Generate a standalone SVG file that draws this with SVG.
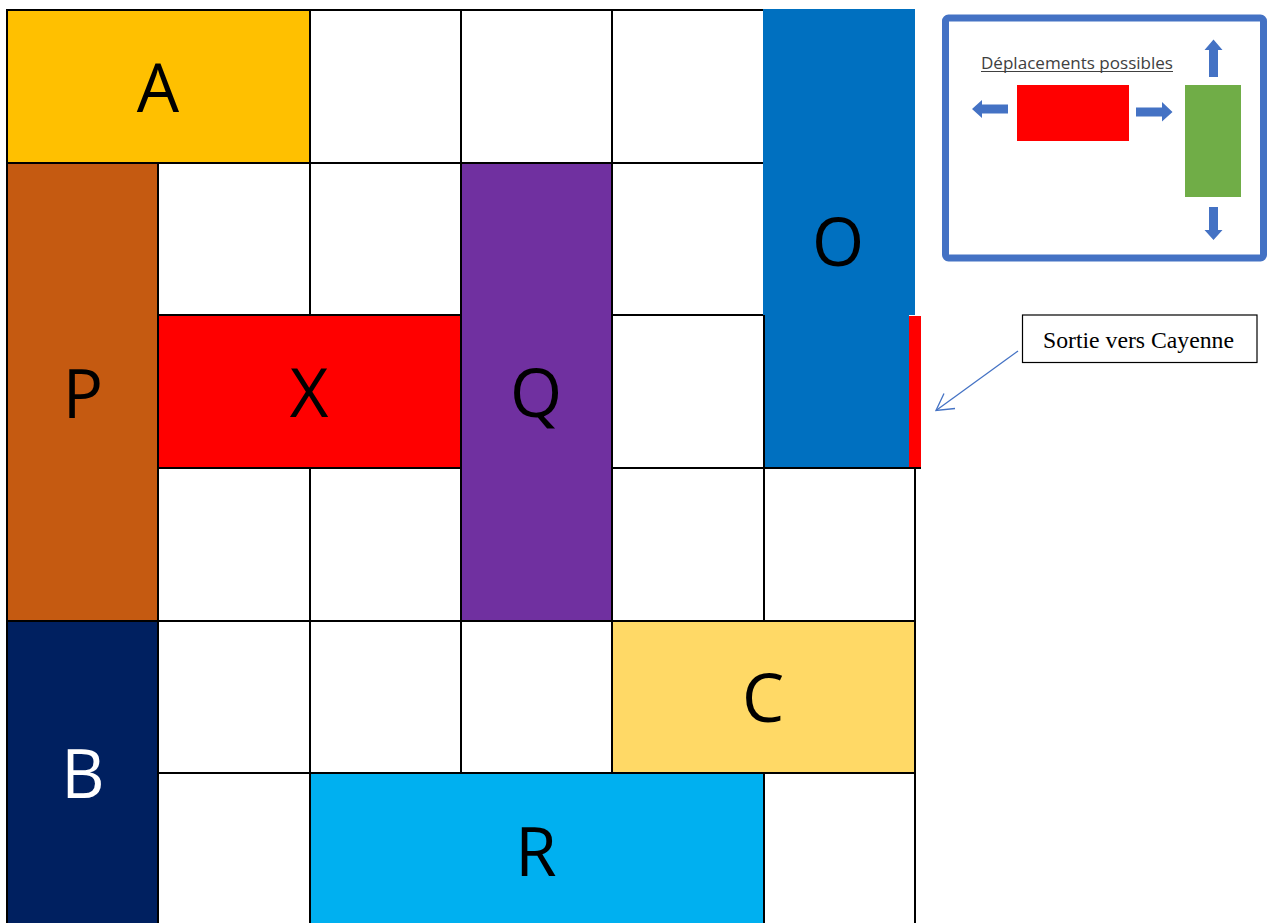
<svg xmlns="http://www.w3.org/2000/svg" width="1275" height="923" viewBox="0 0 1275 923">
<style>
.cell{fill:#FFFFFF;stroke:#000;stroke-width:2}
.blk{stroke:#000;stroke-width:2}
.lbl{font-family:"Open Sans","Liberation Sans",sans-serif;font-size:67px;text-anchor:middle;fill:#000}
.arr{fill:#4472C4}
</style>
<defs>
<marker id="open" viewBox="0 0 20 20" refX="18" refY="10" markerWidth="20" markerHeight="20" markerUnits="userSpaceOnUse" orient="auto">
<path d="M2,2 L18,10 L2,18" fill="none" stroke="#4472C4" stroke-width="1.3"/>
</marker>
</defs>
<rect width="1275" height="923" fill="#FFFFFF"/>
<g id="grid">
<rect class="cell" x="310" y="10" width="151" height="153"/>
<rect class="cell" x="461" y="10" width="151" height="153"/>
<rect class="cell" x="612" y="10" width="152" height="153"/>
<rect class="cell" x="158" y="163" width="152" height="152"/>
<rect class="cell" x="310" y="163" width="151" height="152"/>
<rect class="cell" x="612" y="163" width="152" height="152"/>
<rect class="cell" x="612" y="315" width="152" height="153"/>
<rect class="cell" x="158" y="468" width="152" height="153"/>
<rect class="cell" x="310" y="468" width="151" height="153"/>
<rect class="cell" x="612" y="468" width="152" height="153"/>
<rect class="cell" x="764" y="468" width="151" height="153"/>
<rect class="cell" x="158" y="621" width="152" height="152"/>
<rect class="cell" x="310" y="621" width="151" height="152"/>
<rect class="cell" x="461" y="621" width="151" height="152"/>
<rect class="cell" x="158" y="773" width="152" height="155"/>
<rect class="cell" x="764" y="773" width="151" height="155"/>
</g>
<g id="node-A"><rect class="blk" x="7" y="10" width="303" height="153" fill="#FFC000"/><text class="lbl" x="158" y="112">A</text></g>
<g id="node-P"><rect class="blk" x="7" y="163" width="151" height="458" fill="#C55A11"/><text class="lbl" x="83" y="418">P</text></g>
<g id="node-X"><rect class="blk" x="158" y="315" width="303" height="153" fill="#FF0000"/><text class="lbl" x="309" y="417">X</text></g>
<g id="node-Q"><rect class="blk" x="461" y="163" width="151" height="458" fill="#7030A0"/><text class="lbl" x="536" y="417">Q</text></g>
<g id="node-O">
<rect x="763" y="9" width="152" height="306" fill="#0070C0"/>
<rect x="764" y="315" width="145" height="153" fill="#0070C0"/>
<line x1="764" y1="315" x2="764" y2="468" stroke="#000" stroke-width="2"/>
<rect x="909" y="316" width="12" height="151" fill="#FF0000"/>
<line x1="763" y1="468" x2="921" y2="468" stroke="#000" stroke-width="2"/>
<text class="lbl" x="838" y="266">O</text>
</g>
<g id="node-B"><rect class="blk" x="7" y="621" width="151" height="307" fill="#002060"/><text class="lbl" x="83" y="798" fill="#FFFFFF" style="fill:#FFFFFF">B</text></g>
<g id="node-C"><rect class="blk" x="612" y="621" width="303" height="152" fill="#FFD966"/><text class="lbl" x="763" y="722">C</text></g>
<g id="node-R"><rect class="blk" x="310" y="773" width="454" height="155" fill="#00B0F0"/><text class="lbl" x="536" y="876">R</text></g>
<g id="legend">
<rect x="945.5" y="18" width="318" height="240" rx="3" fill="#FFFFFF" stroke="#4472C4" stroke-width="7"/>
<text x="981" y="69" font-family="'Open Sans','Liberation Sans',sans-serif" font-size="17" fill="#404040" textLength="192" lengthAdjust="spacingAndGlyphs">Déplacements possibles</text>
<line x1="981" y1="71.5" x2="1173" y2="71.5" stroke="#404040" stroke-width="1.2"/>
<rect x="1017" y="85" width="112" height="56" fill="#FF0000"/>
<rect x="1185" y="85" width="56" height="112" fill="#70AD47"/>
<polygon class="arr" points="972,109 982,100 982,104.5 1008,104.5 1008,113.5 982,113.5 982,118"/>
<polygon class="arr" points="1172.5,112 1162,102 1162,107.5 1136,107.5 1136,116.5 1162,116.5 1162,121.5"/>
<polygon class="arr" points="1213.5,39.5 1222.5,50 1218,50 1218,77 1209,77 1209,50 1204.5,50"/>
<polygon class="arr" points="1213.5,240 1222.5,230 1218,230 1218,207 1209,207 1209,230 1204.5,230"/>
</g>
<g id="node-exit">
<rect x="1022.5" y="315" width="234.5" height="47.5" fill="#FFFFFF" stroke="#000" stroke-width="1.2"/>
<text x="1043" y="348" font-family="'Liberation Serif','Times New Roman',serif" font-size="24" fill="#000" textLength="191" lengthAdjust="spacingAndGlyphs">Sortie vers Cayenne</text>
</g>
<g id="connectors">
<path d="M1018,351 L936,410.5" fill="none" stroke="#4472C4" stroke-width="1.3"/>
<path d="M944,393.5 L936,410.5 L955,408.5" fill="none" stroke="#4472C4" stroke-width="1.3"/>
</g>
</svg>
